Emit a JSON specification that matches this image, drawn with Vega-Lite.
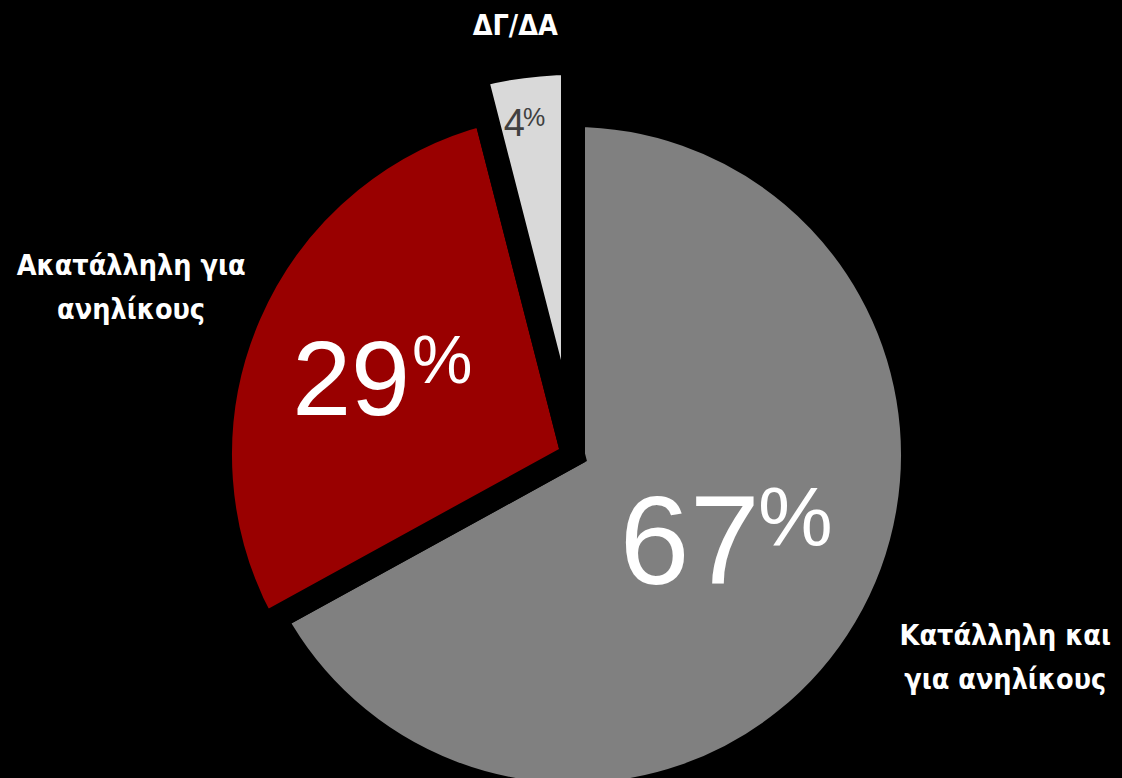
{
  "$schema": "https://vega.github.io/schema/vega-lite/v6.json",
  "autosize": {"type": "none"},
  "width": 1098,
  "height": 646,
  "padding": {"left": 24, "top": 132, "right": 0, "bottom": 0},
  "background": "black",
  "config": {"view": {"stroke": null}},
  "data": {
    "values": [
      {"label": "Κατάλληλη και\nγια ανηλίκους", "pct": 67, "idx": 1},
      {"label": "Ακατάλληλη για\nανηλίκους", "pct": 29, "idx": 2},
      {"label": "ΔΓ/ΔΑ", "pct": 4, "idx": 3}
    ]
  },
  "encoding": {
    "theta": {"field": "pct", "type": "quantitative", "stack": true},
    "order": {"field": "idx", "type": "quantitative"}
  },
  "layer": [
    {
      "mark": {"type": "arc", "filled": true, "stroke": "black", "strokeWidth": 24},
      "encoding": {
        "fill": {
          "field": "label",
          "type": "nominal",
          "legend": null,
          "scale": {
            "domain": ["Κατάλληλη και\nγια ανηλίκους", "Ακατάλληλη για\nανηλίκους", "ΔΓ/ΔΑ"],
            "range": ["#808080", "#990000", "#d9d9d9"]
          }
        },
        "radius": {
          "field": "pct",
          "type": "quantitative",
          "scale": {"type": "linear", "domain": [4, 29, 67], "range": [392, 353, 340], "zero": false, "nice": false}
        },
        "radius2": {"value": 0}
      }
    },
    {
      "mark": {"type": "text", "font": "Liberation Sans", "align": "right", "baseline": "alphabetic", "dx": 5, "dy": 28, "thetaOffset": -0.026},
      "encoding": {
        "text": {"field": "pct", "type": "quantitative"},
        "radius": {
          "field": "pct",
          "type": "quantitative",
          "scale": {"type": "linear", "domain": [4, 29, 67], "range": [351, 181, 208], "zero": false, "nice": false}
        },
        "size": {
          "field": "pct",
          "type": "quantitative",
          "legend": null,
          "scale": {"type": "linear", "domain": [4, 29, 67], "range": [38, 106, 126], "zero": false, "nice": false}
        },
        "color": {"condition": {"test": "datum.pct < 10", "value": "#404040"}, "value": "white"}
      }
    },
    {
      "mark": {"type": "text", "font": "Liberation Sans", "align": "left", "baseline": "alphabetic", "dx": 3, "dy": -8, "thetaOffset": -0.038},
      "encoding": {
        "text": {"value": "%"},
        "radius": {
          "field": "pct",
          "type": "quantitative",
          "scale": {"type": "linear", "domain": [4, 29, 67], "range": [325, 176, 207], "zero": false, "nice": false}
        },
        "size": {
          "field": "pct",
          "type": "quantitative",
          "legend": null,
          "scale": {"type": "linear", "domain": [4, 29, 67], "range": [25, 68, 84], "zero": false, "nice": false}
        },
        "color": {"condition": {"test": "datum.pct < 10", "value": "#404040"}, "value": "white"}
      }
    },
    {
      "mark": {"type": "text", "font": "DejaVu Sans Condensed, DejaVu Sans", "fontWeight": "bold", "fontSize": 28.5, "lineHeight": 44, "lineBreak": "\n", "align": "center", "baseline": "middle", "dx": 22, "dy": -25, "thetaOffset": -0.069, "color": "white"},
      "encoding": {
        "text": {"field": "label", "type": "nominal"},
        "radius": {
          "field": "pct",
          "type": "quantitative",
          "scale": {"type": "linear", "domain": [4, 29, 67], "range": [412, 492, 459], "zero": false, "nice": false}
        }
      }
    }
  ],
  "resolve": {"scale": {"radius": "independent", "size": "independent"}}
}
